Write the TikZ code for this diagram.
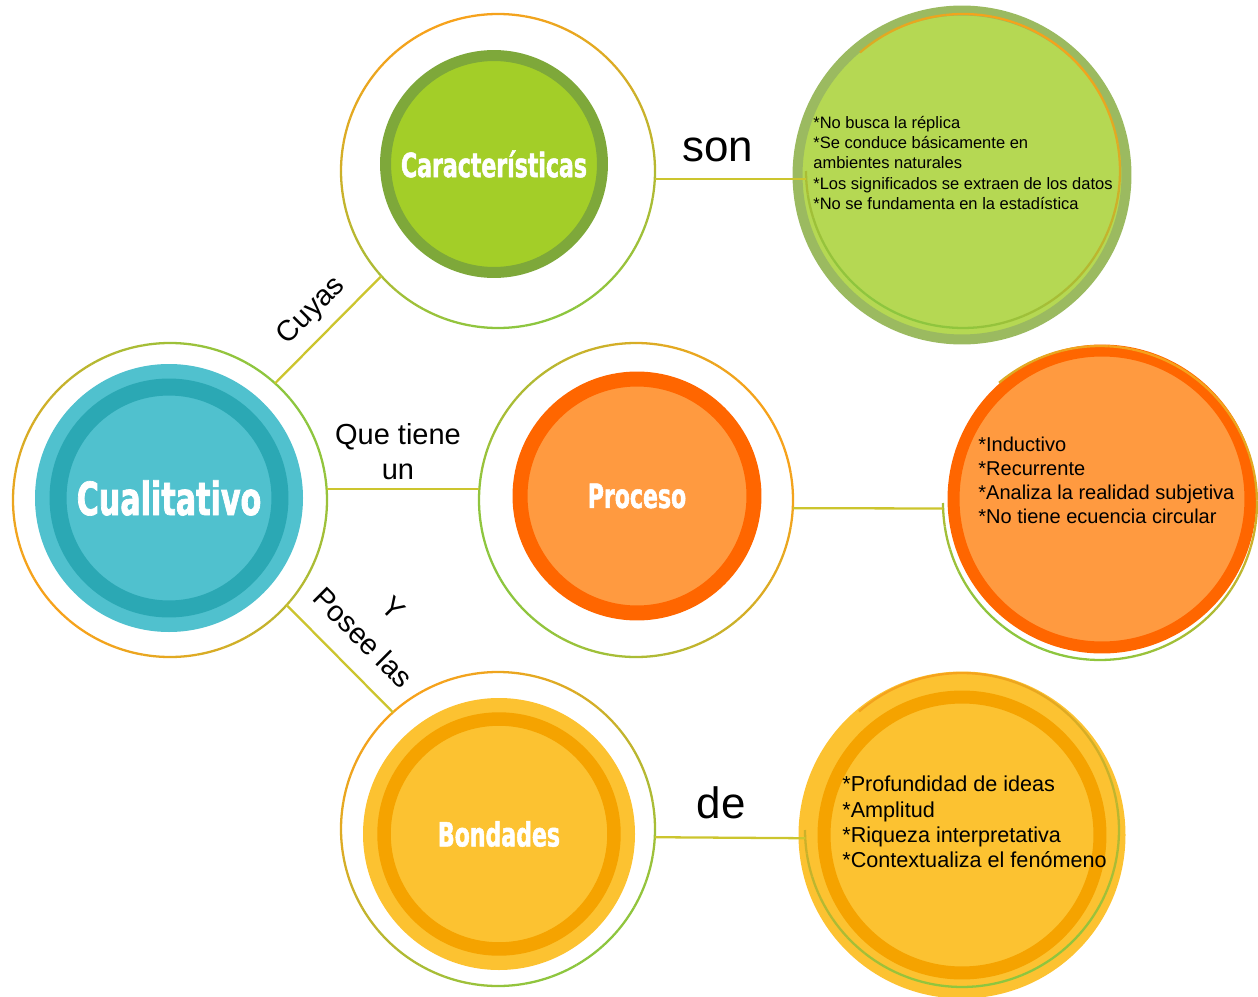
\documentclass[tikz,border=0pt]{standalone}
\usepackage{fontspec}
\setmainfont{Liberation Sans}
\newfontfamily\titlefont[FakeStretch=0.66,FakeBold=1.5]{DejaVu Sans}
\usetikzlibrary{calc}

\definecolor{cyanl}{HTML}{50C1CE}
\definecolor{cyand}{HTML}{2BA8B4}
\definecolor{greenl}{HTML}{A3CE28}
\definecolor{greend}{HTML}{7EA83A}
\definecolor{orangel}{HTML}{FF9A40}
\definecolor{oranged}{HTML}{FF6600}
\definecolor{yellowl}{HTML}{FCC231}
\definecolor{yellowd}{HTML}{F5A300}
\definecolor{leafl}{HTML}{B5D853}
\definecolor{leafd}{HTML}{9BBA60}
\definecolor{ringor}{HTML}{F7A21B}
\definecolor{ringgr}{HTML}{8DC63F}
\definecolor{linkcol}{HTML}{CCC52E}

\tikzset{
  ring/.style={circle, minimum size=6.28cm, inner sep=0pt, outer sep=0pt},
  disc/.style={circle, inner sep=0pt, outer sep=0pt, text=white,
    font=\titlefont\bfseries\fontsize{19}{19}\selectfont},
  ringline/.style={line width=1.3pt},
  link/.style={draw=linkcol, line width=1.3pt},
  lbl/.style={font=\fontsize{16.5}{20}\selectfont, align=center},
  info/.style={anchor=west, align=left, inner sep=0pt}
}

% thin ring, orange towards #3, green on the other side
\newcommand{\gradring}[5]{%
  \foreach \s in {0,...,35}{
    \pgfmathsetmacro{\ringa}{#4+(#5-#4)*\s/36}
    \pgfmathsetmacro{\ringb}{#4+(#5-#4)*(\s+1)/36}
    \pgfmathtruncatemacro{\mix}{50+50*cos(\ringa-#3)}
    \draw[ringline, ringor!\mix!ringgr] ($(#1.center)+(\ringa:#2)$)
      arc[start angle=\ringa, end angle=\ringb, radius=#2];
  }}

\begin{document}
\begin{tikzpicture}[x=0.02cm, y=-0.02cm]
\useasboundingbox (0,0) rectangle (1258,997);

% Cualitativo
\node[ring] (cual) at (170,500) {};
\fill[cyanl] (169,498) circle (134);
\node[disc, fill=cyanl, draw=cyand, line width=0.34cm, minimum size=4.44cm,
  font=\titlefont\bfseries\fontsize{26}{26}\selectfont] (cualt) at (169,498) {Cualitativo};

% Caracteristicas
\node[ring] (carac) at (498,171) {};
\node[disc, fill=greenl, draw=greend, line width=0.22cm, minimum size=4.34cm] (caract) at (494,164) {Características};

% Proceso
\node[ring] (proc) at (636,500) {};
\node[disc, fill=orangel, draw=oranged, line width=0.3cm, minimum size=4.68cm] (proct) at (637,496) {Proceso};

% Bondades
\node[ring] (bond) at (498,829) {};
\fill[yellowl] (499,834) circle (136);
\node[disc, fill=yellowl, draw=yellowd, line width=0.27cm, minimum size=4.6cm] (bondt) at (499,834) {Bondades};

% right side
\node[circle, fill=leafl, draw=leafd, line width=0.2cm, minimum size=6.58cm] (rcaracf) at (962,175) {};
\node[ring] (rcarac) at (963,171) {};
\node[circle, fill=orangel, draw=oranged, line width=0.24cm, minimum size=5.94cm] (rprocf) at (1102,499) {};
\node[ring] (rproc) at (1100,503) {};
\fill[yellowl] (962,835) circle (163.5);
\node[circle, fill=yellowl, draw=yellowd, line width=0.26cm, minimum size=5.52cm] (rbondf) at (962,835) {};
\node[ring] (rbond) at (962,830) {};

% rings
\gradring{cual}{157}{135}{0}{360}
\gradring{carac}{157}{250}{0}{360}
\gradring{proc}{157}{330}{0}{360}
\gradring{bond}{157}{230}{0}{360}
\gradring{rcarac}{157}{290}{229}{540}
\gradring{rproc}{157}{290}{230}{540}
\gradring{rbond}{157}{250}{229}{540}

% texts
\node[info, font=\fontsize{9.4}{11.4}\selectfont] (caractxt) at (813,163) {*No busca la réplica\\*Se conduce básicamente en\\ambientes naturales\\*Los significados se extraen de los datos\\*No se fundamenta en la estadística};
\node[info, font=\fontsize{11.4}{13.7}\selectfont] (proctxt) at (978,480) {*Inductivo\\*Recurrente\\*Analiza la realidad subjetiva\\*No tiene ecuencia circular};
\node[info, font=\fontsize{12.3}{14.4}\selectfont] (bondtxt) at (842,822) {*Profundidad de ideas\\*Amplitud\\*Riqueza interpretativa\\*Contextualiza el fenómeno};

% links
\draw[link] (cual.48) -- (carac.222);
\draw[link] (cual.4) -- (proc.176);
\draw[link] (cual.-42) -- (bond.132);
\draw[link] (carac.-3) -- (rcarac.183);
\draw[link] (proc.-3) -- (rproc.182);
\draw[link] (bond.-3) -- (rbond.183);

\node[lbl, rotate=45] (cuyas) at (312,311) {Cuyas};
\node[lbl] (quetiene) at (398,452) {Que tiene\\un};
\node[lbl, rotate=-45, font=\fontsize{16.5}{24}\selectfont] (posee) at (378,623) {Y\\Posee las};
\node[font=\fontsize{25}{25}\selectfont] (son) at (718,150) {son};
\node[font=\fontsize{25}{25}\selectfont] (de) at (721,803) {de};
\end{tikzpicture}
\end{document}
